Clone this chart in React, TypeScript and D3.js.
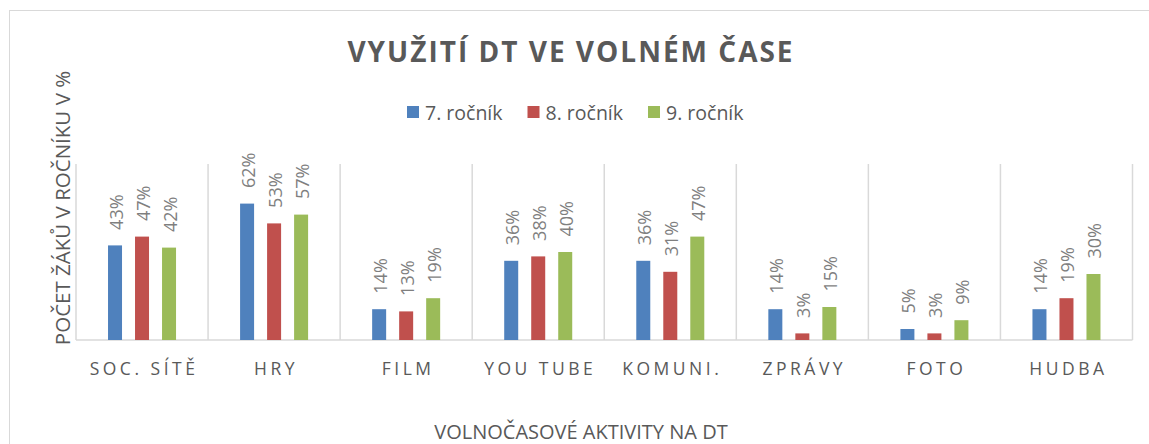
import React from "react";
import * as d3 from "d3";

const categories = ["SOC. SÍTĚ", "HRY", "FILM", "YOU TUBE", "KOMUNI.", "ZPRÁVY", "FOTO", "HUDBA"];
const seriesNames = ["7. ročník", "8. ročník", "9. ročník"];
const grade7 = [43, 62, 14, 36, 36, 14, 5, 14];
const grade8 = [47, 53, 13, 38, 31, 3, 3, 19];
const grade9 = [42, 57, 19, 40, 47, 15, 9, 30];
const seriesValues = [grade7, grade8, grade9];
const colors = ["#4f81bd", "#c0504d", "#9bbb59"];
const yMax = 80;

const W = 1149;
const H = 444;
const plot = { left: 76, right: 1132.5, top: 164, bottom: 340 };
const FONT = "'Open Sans', sans-serif";

export default function App() {
  const x0 = d3.scaleBand<string>().domain(categories).range([plot.left, plot.right]).paddingInner(0).paddingOuter(0);
  const bw = x0.bandwidth();
  const step = bw * 0.2045; // ~27px
  const barW = bw * 0.106; // ~14px
  const x1 = d3
    .scaleBand<string>()
    .domain(seriesNames)
    .range([bw / 2 - step * 1.5, bw / 2 + step * 1.5]);
  const y = d3.scaleLinear().domain([0, yMax]).range([plot.bottom, plot.top]);

  const boundaries = categories.map((c) => x0(c)!).concat([plot.right]);

  const legendX = [407, 527.5, 648];

  return (
    <div style={{ position: "absolute", left: 0, top: 0 }}>
      <svg width={W} height={H} style={{ display: "block", background: "#fff" }} fontFamily={FONT}>
        <rect x={9.5} y={10.5} width={W + 10} height={H + 10} fill="#fff" stroke="#d9d9d9" strokeWidth={1} />
        <text
          x={571}
          y={62}
          textAnchor="middle"
          fontSize={28}
          fontWeight={700}
          fill="#595959"
          letterSpacing={2}
        >
          VYUŽITÍ DT VE VOLNÉM ČASE
        </text>
        {seriesNames.map((s, i) => (
          <g key={s}>
            <rect x={legendX[i]} y={106} width={12} height={12} fill={colors[i]} />
            <text x={legendX[i] + 18} y={119.5} fontSize={19.5} fill="#595959">
              {s}
            </text>
          </g>
        ))}
        {boundaries.map((bx, i) => (
          <line key={i} x1={bx} x2={bx} y1={plot.top} y2={plot.bottom} stroke="#d9d9d9" strokeWidth={1.5} />
        ))}
        <line x1={plot.left} x2={plot.right} y1={plot.bottom} y2={plot.bottom} stroke="#d9d9d9" strokeWidth={1.5} />
        {categories.map((c, ci) => (
          <g key={c} transform={`translate(${x0(c)},0)`}>
            {seriesNames.map((s, si) => {
              const v = seriesValues[si][ci];
              const cx = x1(s)! + x1.bandwidth() / 2;
              return (
                <g key={s}>
                  <rect x={cx - barW / 2} y={y(v)} width={barW} height={plot.bottom - y(v)} fill={colors[si]} />
                  <text
                    transform={`translate(${cx + 1.5},${y(v) - 15.5}) rotate(-90)`}
                    dy="0.35em"
                    fontSize={18}
                    fill="#7f7f7f"
                  >
                    {v}%
                  </text>
                </g>
              );
            })}
            <text x={bw / 2 + 2} y={375} textAnchor="middle" fontSize={17.5} fill="#595959" letterSpacing={3.5}>
              {c}
            </text>
          </g>
        ))}
        <text transform={`translate(70,208) rotate(-90)`} textAnchor="middle" fontSize={20.5} fill="#595959">
          POČET ŽÁKŮ V ROČNÍKU V %
        </text>
        <text x={581} y={439} textAnchor="middle" fontSize={20} fill="#595959">
          VOLNOČASOVÉ AKTIVITY NA DT
        </text>
      </svg>
    </div>
  );
}
